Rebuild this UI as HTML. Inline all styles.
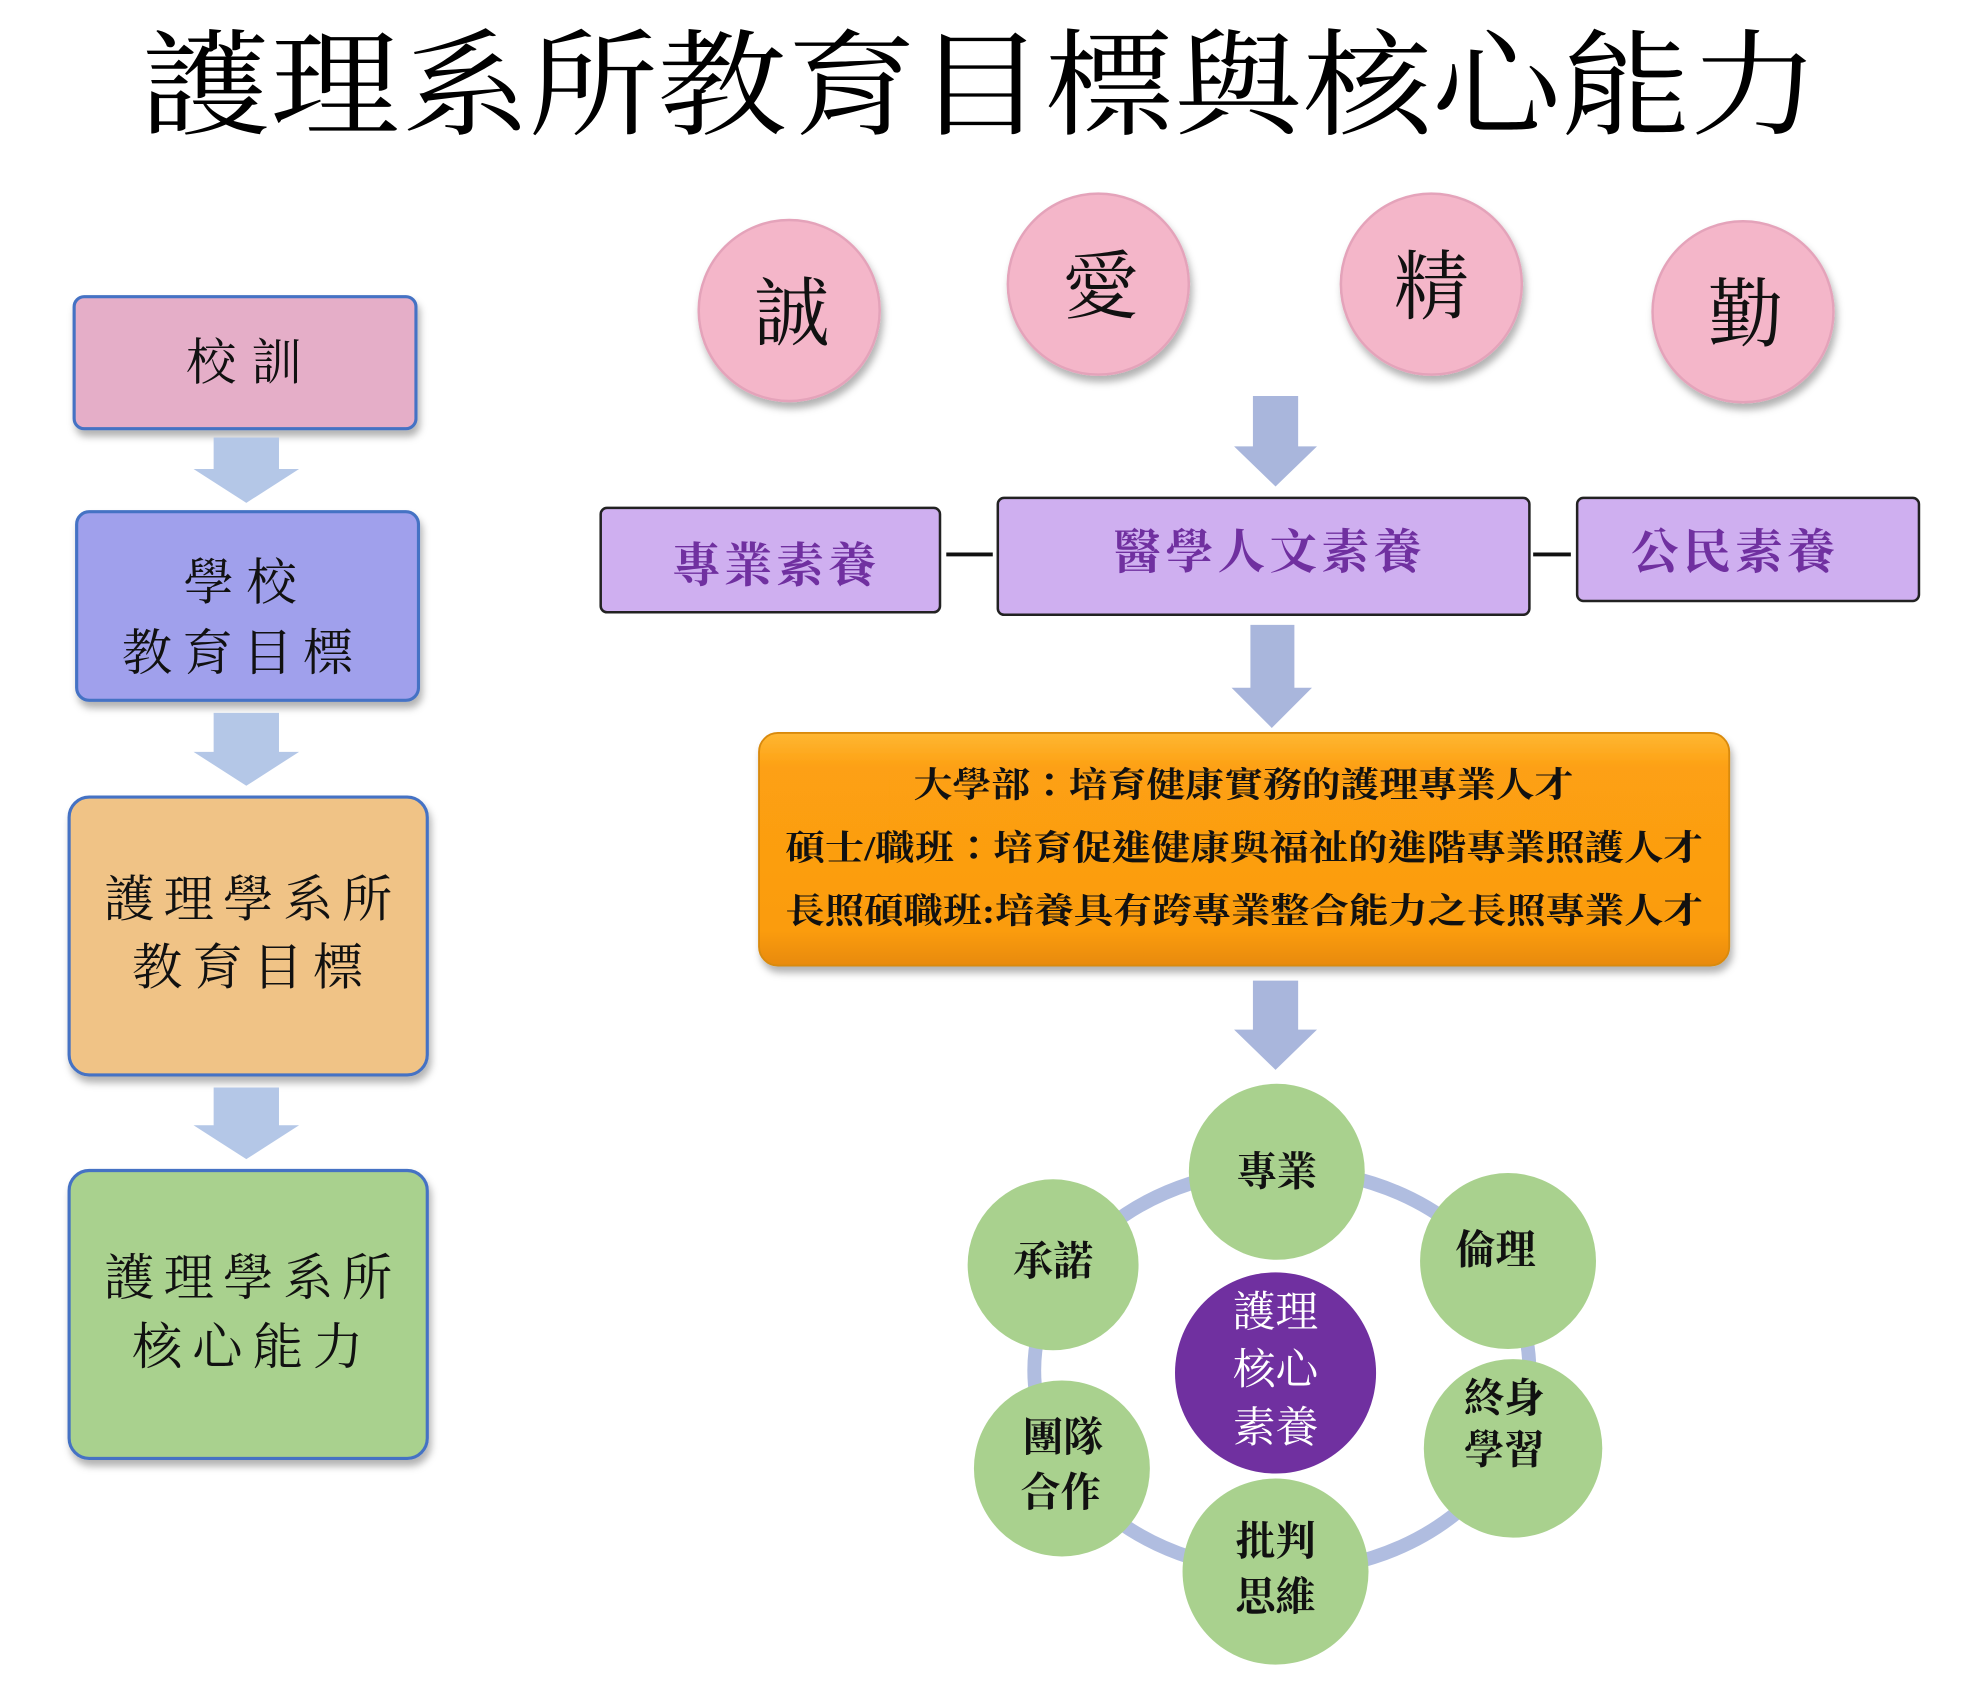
<!DOCTYPE html>
<html><head><meta charset="utf-8"><style>
html,body{margin:0;padding:0;background:#fff;}
svg{display:block;}
text{font-family:"Liberation Serif","Noto Serif CJK TC","Noto Serif CJK SC",serif;}
</style></head><body>
<svg width="1973" height="1691" viewBox="0 0 1570 1345" preserveAspectRatio="none" xmlns="http://www.w3.org/2000/svg">
<defs>
<filter id="sh" x="-20%" y="-20%" width="140%" height="150%"><feDropShadow dx="2" dy="5" stdDeviation="3" flood-color="#000" flood-opacity="0.3"/></filter>
<linearGradient id="og" x1="0" y1="0" x2="0" y2="1"><stop offset="0" stop-color="#ffb733"/><stop offset="0.15" stop-color="#fda012"/><stop offset="0.85" stop-color="#fb9c10"/><stop offset="1" stop-color="#e88a08"/></linearGradient>
</defs>
<text x="780" y="100" font-size="92" text-anchor="middle" textLength="1335" lengthAdjust="spacingAndGlyphs">護理系所教育目標與核心能力</text>

<!-- left column -->
<g stroke="#4472c4" stroke-width="2.5" filter="url(#sh)">
<rect x="59" y="236" width="272" height="105" rx="8" fill="#e5aec8"/>
<rect x="61" y="407" width="272" height="150" rx="10" fill="#a0a0ec"/>
<rect x="55" y="634" width="285" height="221" rx="16" fill="#f0c386"/>
<rect x="55" y="931" width="285" height="229" rx="16" fill="#a9d18e"/>
</g>
<g fill="#b4c7e7">
<polygon points="170,348 222,348 222,373 238,373 196,400 154,373 170,373"/>
<polygon points="170,567 222,567 222,598 238,598 196,625 154,598 170,598"/>
<polygon points="170,865 222,865 222,895 238,895 196,922 154,895 170,895"/>
</g>
<g font-size="40" fill="#111">
<text x="148" y="302" textLength="92" lengthAdjust="spacing">校訓</text>
<text x="146" y="477" textLength="90" lengthAdjust="spacing">學校</text>
<text x="97" y="533" textLength="184" lengthAdjust="spacing">教育目標</text>
<text x="83" y="729" textLength="229" lengthAdjust="spacing">護理學系所</text>
<text x="105" y="783" textLength="184" lengthAdjust="spacing">教育目標</text>
<text x="83" y="1030" textLength="229" lengthAdjust="spacing">護理學系所</text>
<text x="105" y="1085" textLength="184" lengthAdjust="spacing">核心能力</text>
</g>

<!-- circles -->
<g fill="#f4b6c9" stroke="#e4a3ba" stroke-width="2" filter="url(#sh)">
<circle cx="628" cy="247" r="72"/>
<circle cx="874" cy="226" r="72"/>
<circle cx="1139" cy="226" r="72"/>
<circle cx="1387" cy="248" r="72"/>
</g>
<g font-size="60" text-anchor="middle" fill="#111">
<text x="630" y="270">誠</text>
<text x="876" y="249">愛</text>
<text x="1139" y="249">精</text>
<text x="1389" y="271">勤</text>
</g>

<g fill="#a9b6dc">
<polygon points="997,315 1033,315 1033,355 1048,355 1015,387 982,355 997,355"/>
<polygon points="995,497 1030,497 1030,547 1044,547 1012,579 980,547 995,547"/>
<polygon points="997,780 1033,780 1033,819 1048,819 1015,851 982,819 997,819"/>
</g>

<!-- purple boxes -->
<g fill="#cfaff0" stroke="#222" stroke-width="2">
<rect x="478" y="404" width="270" height="83" rx="5"/>
<rect x="794" y="396" width="423" height="93" rx="5"/>
<rect x="1255" y="396" width="272" height="82" rx="5"/>
</g>
<g stroke="#111" stroke-width="3">
<line x1="753" y1="441" x2="790" y2="441"/>
<line x1="1220" y1="441" x2="1250" y2="441"/>
</g>
<g font-size="38" font-weight="bold" fill="#7030a0">
<text x="535" y="463" textLength="162" lengthAdjust="spacing">專業素養</text>
<text x="886" y="452" textLength="245" lengthAdjust="spacing">醫學人文素養</text>
<text x="1298" y="452" textLength="162" lengthAdjust="spacing">公民素養</text>
</g>

<!-- orange -->
<rect x="604" y="583" width="772" height="185" rx="15" fill="url(#og)" stroke="#d98a10" stroke-width="1.5" filter="url(#sh)"/>
<g font-size="28" font-weight="bold" fill="#111">
<text x="727" y="634" textLength="525" lengthAdjust="spacingAndGlyphs">大學部：培育健康實務的護理專業人才</text>
<text x="625" y="684" textLength="730" lengthAdjust="spacingAndGlyphs">碩士/職班：培育促進健康與福祉的進階專業照護人才</text>
<text x="625" y="734" textLength="730" lengthAdjust="spacingAndGlyphs">長照碩職班:培養具有跨專業整合能力之長照專業人才</text>
</g>

<!-- ring -->
<ellipse cx="1020" cy="1090" rx="197" ry="160" fill="none" stroke="#b0bde0" stroke-width="11"/>
<g fill="#a9d18e">
<circle cx="1016" cy="932" r="70"/>
<circle cx="1200" cy="1003" r="70"/>
<circle cx="1204" cy="1152" r="71"/>
<circle cx="1015" cy="1250" r="74"/>
<circle cx="845" cy="1168" r="70"/>
<circle cx="838" cy="1006" r="68"/>
</g>
<circle cx="1015" cy="1092" r="80" fill="#7030a0"/>
<g font-size="32" font-weight="bold" fill="#111" text-anchor="middle">
<text x="1016" y="943">專業</text>
<text x="1190" y="1005">倫理</text>
<text x="1197" y="1123">終身</text>
<text x="1197" y="1164">學習</text>
<text x="1015" y="1237">批判</text>
<text x="1015" y="1281">思維</text>
<text x="846" y="1154">團隊</text>
<text x="844" y="1198">合作</text>
<text x="838" y="1014">承諾</text>
</g>
<g font-size="34" fill="#fff" text-anchor="middle">
<text x="1015" y="1055">護理</text>
<text x="1015" y="1101">核心</text>
<text x="1015" y="1147">素養</text>
</g>
</svg>
</body></html>
